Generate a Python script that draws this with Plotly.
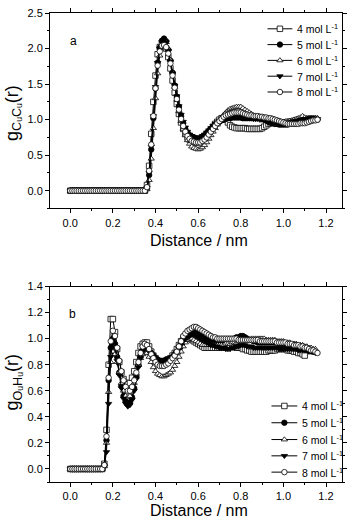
import plotly.graph_objects as go

# ---------------- data ----------------
distance_a = [round(i * 0.01, 2) for i in range(117)]   # 0.00 .. 1.16 nm
distance_b = [round(i * 0.01, 2) for i in range(117)]

zeros_a = [0.00, 0.00, 0.00, 0.00, 0.00, 0.00, 0.00, 0.00, 0.00, 0.00,
           0.00, 0.00, 0.00, 0.00, 0.00, 0.00, 0.00, 0.00, 0.00, 0.00,
           0.00, 0.00, 0.00, 0.00, 0.00, 0.00, 0.00, 0.00, 0.00, 0.00,
           0.00, 0.00, 0.00, 0.00, 0.00, 0.00]          # 0.00 .. 0.35
zeros_b = [0.00, 0.00, 0.00, 0.00, 0.00, 0.00, 0.00, 0.00, 0.00, 0.00,
           0.00, 0.00, 0.00, 0.00, 0.00, 0.00]          # 0.00 .. 0.15

# panel a : g_CuCu(r), values from 0.36 nm
a_4mol = zeros_a + [
    0.08, 0.35, 0.80, 1.25, 1.62, 1.92, 2.02, 2.06, 2.05, 2.00,
    1.88, 1.72, 1.55, 1.38, 1.22, 1.08, 0.96, 0.87, 0.80, 0.75,
    0.72, 0.70, 0.68, 0.68, 0.68, 0.69, 0.71, 0.74, 0.78, 0.82,
    0.86, 0.90, 0.94, 0.97, 1.00, 1.02, 1.02, 1.00, 0.96, 0.92,
    0.90, 0.89, 0.88, 0.88, 0.88, 0.88, 0.88, 0.87, 0.87, 0.87,
    0.87, 0.87, 0.87, 0.87, 0.88, 0.90, 0.92, 0.94, 0.95, 0.96,
    0.96, 0.96, 0.96, 0.96, 0.96, 0.96, 0.97, 0.97, 0.97, 0.98,
    0.98, 0.99, 0.99, 1.00, 1.00, 1.00, 1.01, 1.01, 1.01, 1.01]
a_5mol = zeros_a + [
    0.03, 0.22, 0.58, 1.02, 1.44, 1.80, 2.01, 2.11, 2.14, 2.10,
    1.98, 1.83, 1.66, 1.48, 1.32, 1.18, 1.05, 0.95, 0.87, 0.82,
    0.78, 0.76, 0.75, 0.74, 0.73, 0.74, 0.76, 0.78, 0.81, 0.84,
    0.87, 0.90, 0.93, 0.95, 0.97, 0.99, 1.00, 1.01, 1.02, 1.02,
    1.03, 1.03, 1.03, 1.03, 1.03, 1.02, 1.02, 1.02, 1.02, 1.02,
    1.02, 1.02, 1.03, 1.03, 1.02, 1.01, 0.99, 0.97, 0.96, 0.95,
    0.94, 0.94, 0.93, 0.93, 0.93, 0.93, 0.93, 0.94, 0.95, 0.96,
    0.97, 0.98, 0.99, 1.00, 1.00, 1.01, 1.01, 1.01, 1.01, 1.01,
    1.00]
a_6mol = zeros_a + [
    0.02, 0.15, 0.45, 0.88, 1.30, 1.65, 1.90, 2.04, 2.10, 2.09,
    1.99, 1.84, 1.66, 1.46, 1.28, 1.12, 0.98, 0.87, 0.78, 0.71,
    0.66, 0.62, 0.60, 0.59, 0.58, 0.59, 0.61, 0.64, 0.68, 0.73,
    0.78, 0.83, 0.88, 0.93, 0.98, 1.03, 1.07, 1.10, 1.13, 1.15,
    1.16, 1.17, 1.18, 1.18, 1.18, 1.16, 1.14, 1.12, 1.10, 1.08,
    1.06, 1.05, 1.04, 1.03, 1.02, 1.00, 0.99, 0.97, 0.96, 0.95,
    0.94, 0.93, 0.93, 0.93, 0.93, 0.94, 0.96, 0.98, 0.99, 1.00,
    1.01, 1.02, 1.03, 1.05, 1.03, 1.02, 1.02, 1.02, 1.02, 1.02,
    1.02]
a_7mol = zeros_a + [
    0.04, 0.25, 0.62, 1.05, 1.46, 1.80, 2.00, 2.09, 2.12, 2.09,
    1.97, 1.82, 1.65, 1.48, 1.33, 1.19, 1.07, 0.97, 0.89, 0.83,
    0.79, 0.77, 0.75, 0.74, 0.74, 0.75, 0.77, 0.79, 0.82, 0.85,
    0.88, 0.91, 0.94, 0.96, 0.98, 1.00, 1.01, 1.02, 1.03, 1.04,
    1.04, 1.05, 1.05, 1.05, 1.04, 1.04, 1.03, 1.03, 1.02, 1.02,
    1.01, 1.01, 1.01, 1.00, 1.00, 0.99, 0.98, 0.97, 0.96, 0.95,
    0.95, 0.94, 0.94, 0.94, 0.94, 0.95, 0.95, 0.96, 0.97, 0.98,
    0.98, 0.99, 1.00, 1.00, 1.01, 1.01, 1.02, 1.02, 1.02, 1.01,
    1.01]
a_8mol = zeros_a + [
    0.05, 0.28, 0.65, 1.05, 1.44, 1.76, 1.96, 2.04, 2.05, 2.02,
    1.93, 1.79, 1.62, 1.45, 1.29, 1.14, 1.01, 0.91, 0.83, 0.77,
    0.73, 0.70, 0.69, 0.68, 0.68, 0.68, 0.70, 0.72, 0.75, 0.79,
    0.83, 0.87, 0.91, 0.95, 0.98, 1.01, 1.04, 1.06, 1.07, 1.08,
    1.09, 1.10, 1.10, 1.10, 1.10, 1.09, 1.08, 1.07, 1.06, 1.06,
    1.05, 1.05, 1.05, 1.04, 1.04, 1.03, 1.03, 1.02, 1.02, 1.01,
    1.00, 0.99, 0.98, 0.97, 0.96, 0.95, 0.94, 0.94, 0.94, 0.94,
    0.94, 0.94, 0.95, 0.95, 0.95, 0.96, 0.97, 0.98, 0.99, 0.99,
    1.00]

# panel b : g_OuHu(r), values from 0.16 nm
b_4mol = zeros_b + [
    0.04, 0.30, 0.80, 1.15, 1.15, 1.05, 0.92, 0.82, 0.74, 0.69,
    0.66, 0.65, 0.66, 0.70, 0.75, 0.82, 0.89, 0.94, 0.96, 0.97,
    0.97, 0.94, 0.90, 0.87, 0.85, 0.83, 0.82, 0.82, 0.82, 0.83,
    0.84, 0.85, 0.87, 0.89, 0.92, 0.95, 0.98, 1.00, 1.01, 1.01,
    1.00, 0.99, 0.98, 0.97, 0.96, 0.95, 0.94, 0.93, 0.93, 0.93,
    0.93, 0.93, 0.93, 0.93, 0.93, 0.93, 0.93, 0.94, 0.94, 0.94,
    0.94, 0.94, 0.93, 0.93, 0.93, 0.92, 0.92, 0.91, 0.91, 0.90,
    0.90, 0.90, 0.90, 0.90, 0.90, 0.90, 0.90, 0.91, 0.91, 0.91,
    0.91, 0.92, 0.92, 0.92, 0.92, 0.92, 0.91, 0.91, 0.91, 0.90,
    0.90, 0.89, 0.89, 0.88, 0.87]
b_5mol = zeros_b + [
    0.03, 0.22, 0.68, 0.93, 1.00, 0.96, 0.86, 0.74, 0.64, 0.56,
    0.52, 0.50, 0.51, 0.55, 0.62, 0.71, 0.80, 0.87, 0.91, 0.93,
    0.93, 0.91, 0.89, 0.87, 0.85, 0.84, 0.83, 0.83, 0.83, 0.84,
    0.84, 0.85, 0.86, 0.88, 0.90, 0.93, 0.96, 0.99, 1.01, 1.03,
    1.04, 1.05, 1.05, 1.05, 1.04, 1.03, 1.02, 1.01, 1.00, 0.99,
    0.98, 0.98, 0.97, 0.97, 0.97, 0.97, 0.97, 0.98, 0.98, 0.99,
    0.99, 1.00, 1.01, 1.01, 1.02, 1.02, 1.01, 1.00, 0.99, 0.99,
    0.98, 0.98, 0.97, 0.97, 0.97, 0.97, 0.97, 0.97, 0.97, 0.97,
    0.97, 0.97, 0.96, 0.96, 0.96, 0.96, 0.95, 0.95, 0.95, 0.94,
    0.94, 0.93, 0.93, 0.92, 0.92, 0.92, 0.91, 0.91, 0.90, 0.90]
b_6mol = zeros_b + [
    0.02, 0.20, 0.59, 0.82, 0.90, 0.88, 0.82, 0.74, 0.66, 0.60,
    0.56, 0.55, 0.56, 0.60, 0.66, 0.73, 0.80, 0.85, 0.88, 0.90,
    0.89, 0.86, 0.82, 0.78, 0.75, 0.73, 0.72, 0.71, 0.71, 0.72,
    0.73, 0.74, 0.76, 0.79, 0.82, 0.86, 0.90, 0.94, 0.97, 0.99,
    1.00, 1.00, 0.99, 0.98, 0.97, 0.96, 0.95, 0.95, 0.95, 0.95,
    0.95, 0.95, 0.95, 0.95, 0.95, 0.95, 0.95, 0.96, 0.96, 0.96,
    0.97, 0.97, 0.97, 0.98, 0.98, 0.98, 0.99, 0.99, 0.99, 1.00,
    1.00, 1.00, 1.00, 1.00, 1.00, 1.00, 0.99, 0.99, 0.99, 0.99,
    0.99, 0.98, 0.98, 0.98, 0.98, 0.97, 0.97, 0.97, 0.96, 0.96,
    0.96, 0.95, 0.95, 0.95, 0.94, 0.94, 0.93, 0.93, 0.92, 0.92]
b_7mol = zeros_b + [
    0.02, 0.13, 0.50, 0.86, 0.97, 0.93, 0.83, 0.72, 0.62, 0.54,
    0.50, 0.48, 0.49, 0.53, 0.60, 0.69, 0.78, 0.85, 0.90, 0.92,
    0.92, 0.90, 0.88, 0.85, 0.83, 0.82, 0.81, 0.81, 0.81, 0.82,
    0.82, 0.83, 0.85, 0.87, 0.89, 0.92, 0.95, 0.98, 1.00, 1.01,
    1.02, 1.03, 1.03, 1.02, 1.01, 1.00, 0.99, 0.98, 0.97, 0.96,
    0.95, 0.95, 0.94, 0.94, 0.93, 0.93, 0.93, 0.92, 0.92, 0.92,
    0.93, 0.93, 0.94, 0.94, 0.95, 0.95, 0.95, 0.94, 0.94, 0.94,
    0.93, 0.93, 0.93, 0.93, 0.93, 0.93, 0.93, 0.93, 0.93, 0.93,
    0.93, 0.93, 0.92, 0.92, 0.92, 0.92, 0.92, 0.92, 0.92, 0.92,
    0.92, 0.91, 0.91, 0.91, 0.91, 0.91, 0.90, 0.90, 0.90, 0.89]
b_8mol = zeros_b + [
    0.03, 0.25, 0.70, 0.98, 1.06, 1.02, 0.93, 0.83, 0.75, 0.68,
    0.63, 0.60, 0.60, 0.63, 0.68, 0.74, 0.82, 0.89, 0.94, 0.96,
    0.95, 0.92, 0.88, 0.85, 0.82, 0.80, 0.79, 0.79, 0.79, 0.80,
    0.81, 0.83, 0.85, 0.87, 0.90, 0.94, 0.98, 1.02, 1.04, 1.06,
    1.07, 1.08, 1.09, 1.09, 1.08, 1.07, 1.06, 1.05, 1.04, 1.03,
    1.02, 1.01, 1.01, 1.00, 1.00, 1.00, 1.00, 1.00, 1.00, 1.00,
    1.00, 1.00, 1.00, 0.99, 0.99, 0.99, 0.99, 0.99, 0.99, 0.99,
    0.99, 0.99, 0.99, 0.98, 0.98, 0.98, 0.98, 0.98, 0.98, 0.98,
    0.98, 0.97, 0.97, 0.97, 0.97, 0.97, 0.96, 0.96, 0.96, 0.95,
    0.95, 0.95, 0.94, 0.94, 0.93, 0.93, 0.92, 0.91, 0.91, 0.90,
    0.89]

labels = ["4 mol L<sup>-1</sup>", "5 mol L<sup>-1</sup>", "6 mol L<sup>-1</sup>",
          "7 mol L<sup>-1</sup>", "8 mol L<sup>-1</sup>"]
x_ticks = [0.0, 0.2, 0.4, 0.6, 0.8, 1.0, 1.2]
ya_ticks = [0.0, 0.5, 1.0, 1.5, 2.0, 2.5]
yb_ticks = [0.0, 0.2, 0.4, 0.6, 0.8, 1.0, 1.2, 1.4]

# ---------------- styles ----------------
FONT = "Arial, Liberation Sans, sans-serif"
marker_fill = ["white", "black", "white", "black", "white"]
marker_sym = ["square", "circle", "triangle-up", "triangle-down", "circle"]
MSIZE = 5.5

W, H = 354, 521
L, R, T, B = 50, 10, 7, 39
plot_h = H - T - B
plot_w = W - L - R


def py(pix):  # pixel (from top) -> paper y
    return (H - B - pix) / plot_h


def px(pix):
    return (pix - L) / plot_w


fig = go.Figure()
series_a = [a_4mol, a_5mol, a_6mol, a_7mol, a_8mol]
series_b = [b_4mol, b_5mol, b_6mol, b_7mol, b_8mol]


def mk(i):
    return dict(symbol=marker_sym[i], size=MSIZE, color=marker_fill[i],
                line=dict(color="black", width=0.8))


for i, ys in enumerate(series_a):
    fig.add_trace(go.Scatter(
        x=distance_a[:len(ys)], y=ys, mode="lines+markers", name=labels[i],
        line=dict(color="black", width=1), marker=mk(i),
        xaxis="x", yaxis="y", showlegend=False))
for i, ys in enumerate(series_b):
    fig.add_trace(go.Scatter(
        x=distance_b[:len(ys)], y=ys, mode="lines+markers", name=labels[i],
        line=dict(color="black", width=1), marker=mk(i),
        xaxis="x2", yaxis="y2", showlegend=False))

# ---- legends drawn on a hidden full-figure pixel axis ----
legend_rows_a = [23, 39, 55, 71, 87]
legend_rows_b = [405, 422, 439, 455.5, 472]
legend_ann = []
for rows, (lx0, lx1, tx) in [(legend_rows_a, (269, 294, 297)),
                             (legend_rows_b, (273, 299, 302))]:
    for i, ry in enumerate(rows):
        fig.add_trace(go.Scatter(
            x=[lx0, lx1], y=[ry, ry], mode="lines",
            line=dict(color="black", width=1),
            xaxis="x3", yaxis="y3", showlegend=False, hoverinfo="skip"))
        fig.add_trace(go.Scatter(
            x=[(lx0 + lx1) / 2], y=[ry], mode="markers", marker=mk(i),
            xaxis="x3", yaxis="y3", showlegend=False, hoverinfo="skip"))
        legend_ann.append(dict(
            text=labels[i], x=tx, y=ry, xref="x3", yref="y3",
            xanchor="left", yanchor="middle", showarrow=False,
            font=dict(family=FONT, size=10.5, color="black")))

axis_common = dict(
    showline=True, linecolor="black", linewidth=1, mirror="ticks",
    ticks="outside", ticklen=4, tickwidth=1, tickcolor="black",
    showgrid=False, zeroline=False,
    tickfont=dict(family=FONT, size=11, color="black"),
)
xmin, xmax = -0.095, 1.275


def text_ann(text, x, y, size, angle=0):
    return dict(text=text, x=px(x), y=py(y), xref="paper", yref="paper",
                xanchor="center", yanchor="middle", showarrow=False,
                textangle=angle, font=dict(family=FONT, size=size, color="black"))


fig.update_layout(
    width=W, height=H, margin=dict(l=L, r=R, t=T, b=B),
    paper_bgcolor="white", plot_bgcolor="rgba(0,0,0,0)",
    font=dict(family=FONT, color="black"),
    showlegend=False,
    xaxis=dict(axis_common, domain=[0, 1], anchor="y", range=[xmin, xmax],
               tickvals=x_ticks, ticktext=[f"{v:.1f}" for v in x_ticks],
               minor=dict(dtick=0.1, ticks="outside", ticklen=2, tickcolor="black")),
    yaxis=dict(axis_common, domain=[py(205), 1], anchor="x", range=[-0.25, 2.5],
               tickvals=ya_ticks, ticktext=[f"{v:.1f}" for v in ya_ticks],
               minor=dict(dtick=0.25, tick0=0, ticks="outside", ticklen=2, tickcolor="black")),
    xaxis2=dict(axis_common, domain=[0, 1], anchor="y2", range=[xmin, xmax],
                tickvals=x_ticks, ticktext=[f"{v:.1f}" for v in x_ticks],
                minor=dict(dtick=0.1, ticks="outside", ticklen=2, tickcolor="black")),
    yaxis2=dict(axis_common, domain=[0, py(284)], anchor="x2", range=[-0.1, 1.4],
                tickvals=yb_ticks, ticktext=[f"{v:.1f}" for v in yb_ticks],
                minor=dict(dtick=0.1, tick0=0, ticks="outside", ticklen=2, tickcolor="black")),
    xaxis3=dict(domain=[0, 1], anchor="y3", range=[L, W - R], visible=False,
                fixedrange=True),
    yaxis3=dict(domain=[0, 1], anchor="x3", range=[H - B, T], visible=False,
                fixedrange=True),
    annotations=legend_ann + [
        dict(text="a", x=0.016, y=2.11, xref="x", yref="y", showarrow=False,
             xanchor="center", yanchor="middle", font=dict(family=FONT, size=12)),
        dict(text="b", x=0.012, y=1.19, xref="x2", yref="y2", showarrow=False,
             xanchor="center", yanchor="middle", font=dict(family=FONT, size=12)),
        text_ann("Distance / nm", 200, 237, 16),
        text_ann("Distance / nm", 200, 511, 16),
        text_ann("g<sub>C\u1d64C\u1d64</sub>(r)", 13, 108, 18, -90),
        text_ann("g<sub>O\u1d64H\u1d64</sub>(r)", 13, 381, 18, -90),
    ],
)

fig.write_html("out.html")
